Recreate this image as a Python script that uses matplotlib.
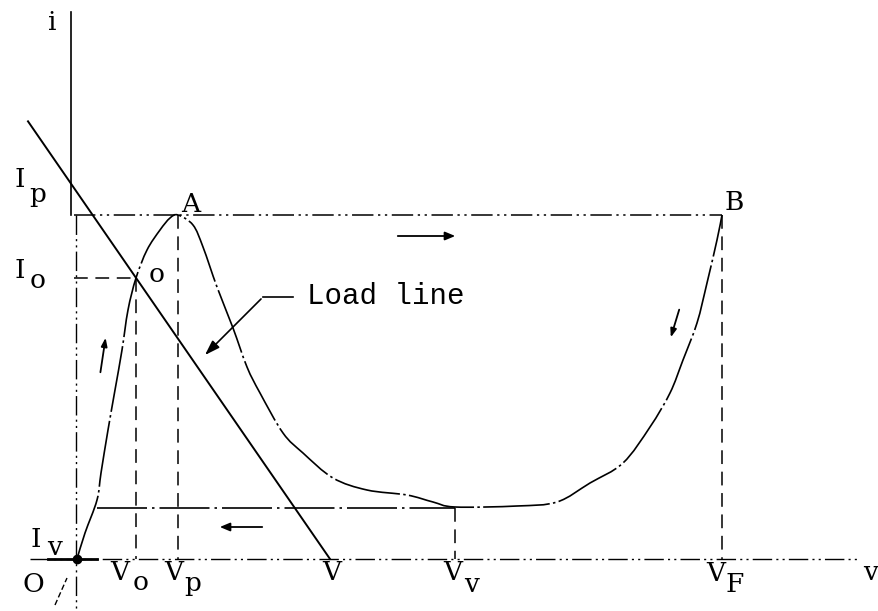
import matplotlib
matplotlib.use("Agg")
import matplotlib.pyplot as plt
from matplotlib.path import Path
from matplotlib.patches import PathPatch

# ---- characteristic data (v in arbitrary voltage units, i in current units) ----
curve_v = [0.3, 1.1, 2.3, 2.7, 3.4, 4.1, 4.8, 5.4, 6.2, 7.3, 8.6, 9.6, 10.4,
           11.9, 12.9, 14.3, 15.9, 17.3, 18.6, 20.9, 22.9, 25.9, 29.3, 33.3, 35.9,
           38.1, 44.3, 48.3, 51.6, 54.9, 57.6, 59.6, 60.9, 62.3, 63.3, 64.3, 64.8]
curve_i = [0.0, 2.6, 5.9, 8.6, 12.9, 16.9, 20.9, 24.9, 28.1, 30.9, 32.9, 34.1, 34.4,
           33.4, 31.2, 27.2, 23.1, 19.2, 16.6, 12.6, 10.6, 8.1, 6.9, 6.4, 5.7,
           5.2, 5.3, 5.7, 7.6, 9.6, 13.2, 16.6, 19.9, 23.6, 27.6, 31.9, 34.4]

# characteristic levels
I_P, I_O, I_V = 34.4, 28.1, 5.1
V_O, V_P, V_SUPPLY, V_V, V_F = 6.2, 10.4, 25.6, 38.1, 64.8
V_KNEE = 2.3                      # where the valley current is reached on the rising branch
LOAD_I0 = 37.1                    # load line current at v = 0
LOAD_V_START = -4.6


def smooth_path(xs, ys):
    """Cubic Bezier path through the given points (Catmull-Rom tangents)."""
    pts = list(zip(xs, ys))
    verts = [pts[0]]
    codes = [Path.MOVETO]
    n = len(pts)
    for k in range(n - 1):
        p0 = pts[k - 1] if k > 0 else pts[k]
        p1, p2 = pts[k], pts[k + 1]
        p3 = pts[k + 2] if k + 2 < n else pts[k + 1]
        c1 = (p1[0] + (p2[0] - p0[0]) / 6, p1[1] + (p2[1] - p0[1]) / 6)
        c2 = (p2[0] - (p3[0] - p1[0]) / 6, p2[1] - (p3[1] - p1[1]) / 6)
        verts += [c1, c2, p2]
        codes += [Path.CURVE4] * 3
    return Path(verts, codes)


# ---- figure ----
fig = plt.figure(figsize=(8.79, 6.11), dpi=100)
ax = fig.add_axes([0, 0, 1, 1])
ax.set_xlim(-7.4, 80.5)
ax.set_ylim(-5.2, 55.9)
ax.axis("off")

ink = "black"
dashdot = (0, (14, 3, 1.5, 3, 1.5, 3))
dashed = (0, (9, 5))
curve_ls = (0, (40, 2, 1.5, 2))

# axes
ax.plot([-0.3, -0.3], [I_P, 54.7], color=ink, lw=1.2)
ax.plot([0.2, 0.2], [I_P, -5.2], color=ink, lw=1.0, ls=dashdot)
ax.plot([-4.4, 78.6], [0, 0], color=ink, lw=1.0, ls=dashdot)
ax.plot([-2.6, V_KNEE], [0, 0], color=ink, lw=2.0)

# reference levels
ax.plot([0, V_F], [I_P, I_P], color=ink, lw=1.1, ls=dashdot)
ax.plot([0, V_O], [I_O, I_O], color=ink, lw=1.1, ls=dashed)
ax.plot([V_KNEE, V_V], [I_V, I_V], color=ink, lw=1.2, ls=(0, (30, 3, 1.5, 3)))
for xv, top in [(V_O, I_O), (V_P, I_P), (V_V, I_V), (V_F, I_P)]:
    ax.plot([xv, xv], [top, 0], color=ink, lw=1.1, ls=dashed)

# load line
ax.plot([LOAD_V_START, V_SUPPLY],
        [LOAD_I0 - LOAD_I0 / V_SUPPLY * LOAD_V_START, 0], color=ink, lw=1.4)

# device characteristic
ax.add_patch(PathPatch(smooth_path(curve_v, curve_i), fill=False, edgecolor=ink,
                       lw=1.2, ls=curve_ls, transform=ax.transData))
ax.plot([0.3], [0.0], "o", color=ink, ms=6)

# switching arrows
arrow_kw = dict(arrowstyle="-|>,head_length=0.6,head_width=0.25", color=ink, lw=1.3)
ax.annotate("", xy=(38.4, 32.3), xytext=(32.1, 32.3), arrowprops=arrow_kw)
ax.annotate("", xy=(14.3, 3.2), xytext=(19.1, 3.2), arrowprops=arrow_kw)
small_kw = dict(arrowstyle="-|>,head_length=0.5,head_width=0.18", color=ink, lw=1.3)
ax.annotate("", xy=(3.2, 22.4), xytext=(2.6, 18.4), arrowprops=small_kw)
ax.annotate("", xy=(59.6, 21.9), xytext=(60.6, 25.2), arrowprops=small_kw)

# load line callout
ax.plot([21.9, 18.9], [26.2, 26.2], color=ink, lw=1.2)
ax.annotate("", xy=(12.9, 20.2), xytext=(18.9, 26.2),
            arrowprops=dict(arrowstyle="-|>,head_length=0.9,head_width=0.3",
                            color=ink, lw=1.2))

# labels
font = dict(family=["DejaVu Serif"], fontsize=19, color=ink,
            ha="center", va="baseline")
ax.text(23.3, 25.5, "Load line",
        **{**font, "family": ["Liberation Mono", "DejaVu Sans Mono"],
           "ha": "left", "fontsize": 21})
ax.text(-2.2, 52.9, "i", **font)

labels = [
    ("I", -5.45, 37.2, "p", -3.6, 35.7),
    ("I", -5.45, 28.1, "o", -3.6, 27.1),
    ("I", -3.85, 1.2, "v", -1.9, 0.4),
    ("V", 4.6, -2.1, "o", 6.7, -3.1),
    ("V", 10.0, -2.1, "p", 11.9, -3.2),
    ("V", 37.9, -2.1, "v", 39.8, -3.3),
    ("V", 64.2, -2.2, "F", 66.1, -3.3),
]
for main, mx, my, sub, sx, sy in labels:
    ax.text(mx, my, main, **font)
    ax.text(sx, sy, sub, **font)

ax.text(25.75, -2.1, "V", **font)
ax.text(80.4, -2.1, "v", **{**font, "ha": "right"})
ax.text(-4.05, -3.3, "O", **font)
ax.plot([-1.9, -0.7], [-4.6, -1.9], color=ink, lw=1.0, ls=(0, (4, 2)))
ax.text(11.7, 34.7, "A", **font)
ax.text(66.0, 34.9, "B", **font)
ax.text(8.3, 27.7, "o", **font)

fig.savefig("out.png", dpi=100, facecolor="white")
